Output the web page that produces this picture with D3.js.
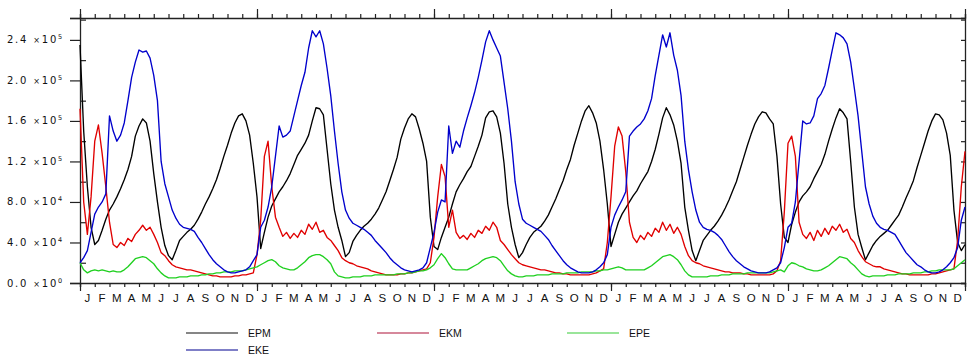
<!DOCTYPE html>
<html>
<head>
<meta charset="utf-8">
<script src="https://cdn.jsdelivr.net/npm/d3@7"></script>
<style>
  html, body { margin: 0; padding: 0; background: #fff; }
  svg { display: block; }
  .lbl { font-family: "DejaVu Sans", Arial, sans-serif; fill: #111; }
  .mon { font-family: "Liberation Sans", Arial, sans-serif; fill: #111; }
</style>
</head>
<body>
<svg id="chart" width="968" height="358"></svg>
<script>
// Five annual cycles of energy terms, sampled four times per month (units of 10^3).
const years = 5;
const stepsPerMonth = 4;
const unit = 1000;
const monthLetters = ["J", "F", "M", "A", "M", "J", "J", "A", "S", "O", "N", "D"];
const yMajorTicks = [0, 40000, 80000, 120000, 160000, 200000, 240000];
const yMinorTicks = [20000, 60000, 100000, 140000, 180000, 220000, 260000];
const yTop = 261600;

const epm = [
  235,150,95,55, 38,42,52,63, 72,78,85,93, 102,112,125,145, 155,162,158,140, 108,80,55,37, 27,23,32,42, 46,50,53,57, 63,70,78,85, 93,102,113,125, 136,148,158,165, 167,160,146,118,
  85,34,50,65, 76,83,90,95, 101,108,117,126, 132,138,146,160, 173,172,166,132, 98,72,55,42, 26,30,41,47, 52,56,59,63, 68,74,82,90, 101,112,124,142, 153,162,167,164, 152,138,120,65,
  36,33,45,55, 65,78,90,97, 103,110,115,125, 135,146,163,169, 170,164,148,118, 78,55,38,25, 30,38,45,50, 53,56,61,67, 75,83,92,101, 112,122,136,148, 160,170,175,168, 158,140,112,78,
  36,48,60,68, 74,80,86,91, 98,104,110,120, 132,147,163,173, 166,156,140,118, 75,52,32,22, 32,42,47,52, 56,61,67,74, 82,91,100,112, 124,136,147,157, 164,169,168,162, 157,125,78,45,
  40,58,70,80, 86,90,95,103, 110,117,127,140, 152,163,172,168, 162,120,75,48, 35,23,30,37, 42,46,49,52, 57,62,67,75, 84,92,101,114, 126,138,150,160, 167,166,161,148, 126,72,40,32,
  38
];

const ekm = [
  172,80,48,85, 140,156,128,95, 60,38,35,40, 37,44,41,48, 52,57,52,55, 48,40,30,27, 22,18,16,15, 14,13,13,12, 11,10,9,8, 7,7,6,6, 6,6,7,7, 8,8,9,10,
  28,62,125,140, 95,65,55,46, 50,44,49,45, 52,48,58,53, 60,50,52,45, 42,37,32,25, 22,20,19,17, 16,15,14,12, 11,10,9,8, 8,8,8,9, 9,10,10,11, 12,13,14,20,
  45,85,117,105, 55,72,50,44, 47,43,49,45, 52,49,56,52, 60,55,42,38, 33,28,24,20, 18,17,16,15, 14,13,13,12, 11,10,10,9, 9,8,8,8, 8,8,8,9, 10,12,14,40,
  85,135,154,145, 110,60,45,40, 47,43,50,46, 54,50,60,52, 58,49,55,48, 36,27,22,20, 19,17,16,15, 14,13,12,11, 11,10,10,10, 9,9,8,8, 8,8,8,8, 9,12,22,70,
  138,145,125,60, 48,44,50,42, 52,46,54,48, 56,52,58,50, 53,44,40,32, 26,21,19,17, 16,16,14,13, 12,11,10,9, 9,8,8,8, 8,8,8,9, 9,10,11,12, 13,14,42,95,
  130
];

const epe = [
  20,13,10,12, 13,12,13,12, 11,12,11,11, 13,16,20,24, 25,26,25,22, 19,14,10,7, 5,5,5,6, 6,6,7,7, 7,8,8,9, 9,10,10,11, 11,11,12,12, 12,13,14,15,
  16,18,20,22, 23,21,17,15, 14,13,13,15, 18,21,25,27, 28,28,26,23, 19,11,7,6, 5,5,6,6, 6,7,7,7, 8,8,8,8, 8,8,9,9, 9,10,10,11, 12,12,13,15,
  18,24,29,25, 19,14,13,13, 13,13,15,17, 19,22,24,25, 26,25,22,17, 12,9,7,6, 6,7,7,7, 8,8,8,8, 9,9,9,9, 10,10,10,10, 11,11,11,11, 12,12,13,13,
  14,15,16,15, 13,13,13,13, 13,13,15,17, 20,23,26,27, 28,26,23,18, 12,8,6,6, 6,6,6,7, 7,7,8,8, 8,9,9,9, 9,10,10,10, 10,10,10,10, 11,12,13,11,
  17,20,19,17, 16,14,13,12, 12,13,15,17, 20,23,26,25, 24,20,17,13, 9,7,6,7, 7,7,7,8, 8,8,9,9, 9,9,10,10, 10,11,11,12, 12,13,13,13, 13,14,17,20,
  23
];

const eke = [
  20,25,32,50, 68,75,80,88, 165,150,140,146, 158,180,203,218, 230,228,229,222, 205,180,120,98, 85,72,64,58, 55,54,53,51, 45,40,34,28, 23,19,16,13, 11,10,10,11, 12,13,16,22,
  28,55,62,75, 95,125,155,144, 146,150,165,180, 195,208,232,249, 243,249,236,212, 185,150,118,90, 72,64,59,57, 55,53,50,47, 42,38,34,30, 25,21,18,15, 13,12,11,12, 13,15,20,35,
  50,70,82,80, 155,128,140,134, 150,163,175,188, 203,220,238,249, 240,232,224,198, 172,140,100,78, 63,59,57,55, 53,51,47,43, 37,32,27,22, 18,15,13,11, 10,10,10,11, 13,16,20,28,
  55,67,75,82, 90,145,150,154, 157,162,170,182, 205,225,245,233, 247,225,210,185, 140,112,90,72, 60,55,53,52, 50,47,43,37, 31,26,22,19, 16,14,12,11, 10,10,10,11, 13,15,20,35,
  55,59,80,120, 160,157,158,165, 182,187,195,212, 230,247,245,242, 236,218,192,165, 130,95,78,66, 59,55,53,52, 50,48,42,36, 30,26,22,18, 16,13,11,10, 10,11,13,16, 20,25,35,62,
  75
];

const series = [
  { name: "EPM", values: epm, color: "#000000", legendColor: "#5e5e5e", col: 0, row: 0 },
  { name: "EKM", values: ekm, color: "#e00000", legendColor: "#c8607a", col: 1, row: 0 },
  { name: "EPE", values: epe, color: "#20d020", legendColor: "#78dc78", col: 2, row: 0 },
  { name: "EKE", values: eke, color: "#0000cc", legendColor: "#5555b5", col: 0, row: 1 }
];

const svg = d3.select("#chart");
const plotL = 80, plotR = 965, plotT = 18, plotB = 283;
const nMonths = years * 12;

const x = d3.scaleLinear().domain([0, nMonths]).range([plotL, plotR]);
const y = d3.scaleLinear().domain([0, yTop]).range([plotB, plotT]);

const monthTicks = d3.range(0, nMonths + 1);
const yearTicks = d3.range(0, nMonths + 1, 12);

// Bottom axis: monthly ticks, longer ticks at year boundaries
svg.append("g").attr("transform", `translate(0,${plotB})`)
  .call(d3.axisBottom(x).tickValues(monthTicks).tickSize(4).tickFormat(""));
svg.append("g").attr("transform", `translate(0,${plotB})`)
  .call(d3.axisBottom(x).tickValues(yearTicks).tickSize(8).tickFormat(""))
  .select(".domain").remove();

// Top axis
svg.append("g").attr("transform", `translate(0,${plotT})`)
  .call(d3.axisTop(x).tickValues(monthTicks).tickSize(4).tickFormat(""));
svg.append("g").attr("transform", `translate(0,${plotT})`)
  .call(d3.axisTop(x).tickValues(yearTicks).tickSize(9).tickFormat(""))
  .select(".domain").remove();

// Left axis: labelled ticks outward, intermediate ticks inward
svg.append("g").attr("transform", `translate(${plotL},0)`)
  .call(d3.axisLeft(y).tickValues(yMajorTicks.concat([yTop])).tickSizeOuter(0).tickSize(10).tickFormat(""));
svg.append("g").attr("transform", `translate(${plotL},0)`)
  .call(d3.axisRight(y).tickValues(yMinorTicks).tickSize(6).tickFormat(""))
  .select(".domain").remove();

// Right axis: inward ticks
svg.append("g").attr("transform", `translate(${plotR},0)`)
  .call(d3.axisLeft(y).tickValues(yMajorTicks.concat(yMinorTicks)).tickSizeOuter(0).tickSize(4).tickFormat(""));

svg.selectAll(".domain").attr("stroke", "#222").attr("stroke-width", 1.3);
svg.selectAll(".tick line").attr("stroke", "#222").attr("stroke-width", 1.2);

// Y tick labels written as mantissa ×10^exponent
yMajorTicks.forEach(v => {
  const e = v === 0 ? 0 : Math.floor(Math.log10(v));
  const m = v / Math.pow(10, e);
  const t = svg.append("text").attr("class", "lbl")
    .attr("x", 64).attr("y", y(v) + 3.5)
    .attr("text-anchor", "end")
    .style("font-size", "10px").style("letter-spacing", "1.8px");
  t.append("tspan").text(m.toFixed(1) + " ");
  t.append("tspan").style("font-size", "8px").text("×");
  t.append("tspan").style("font-size", "10px").text("10");
  t.append("tspan").style("font-size", "6.5px").attr("dy", -4).text(String(e));
});

// Month letters centred in each month
const monthLabels = d3.range(nMonths).map(i => ({ i, letter: monthLetters[i % 12] }));
svg.append("g").selectAll("text").data(monthLabels).join("text")
  .attr("class", "mon")
  .attr("x", d => x(d.i + 0.5))
  .attr("y", 301.5)
  .attr("text-anchor", "middle")
  .style("font-size", "11.5px")
  .text(d => d.letter);

// Series lines
const line = d3.line()
  .x((d, i) => x(i / stepsPerMonth))
  .y(d => y(d * unit));

svg.append("g").selectAll("path").data(series).join("path")
  .attr("d", d => line(d.values))
  .attr("fill", "none")
  .attr("stroke", d => d.color)
  .attr("stroke-width", 1.35)
  .attr("stroke-linejoin", "round");

// Legend
const legendCols = [186, 377, 567];
const legendRows = [333, 350];
const lg = svg.append("g").selectAll("g").data(series).join("g")
  .attr("transform", d => `translate(${legendCols[d.col]},${legendRows[d.row]})`);
lg.append("line").attr("x1", 0).attr("x2", 52).attr("y1", 0).attr("y2", 0)
  .attr("stroke", d => d.legendColor).attr("stroke-width", 1.5);
lg.append("text").attr("class", "mon")
  .attr("x", 62).attr("y", 4)
  .style("font-size", "10.5px")
  .text(d => d.name);
</script>
</body>
</html>
